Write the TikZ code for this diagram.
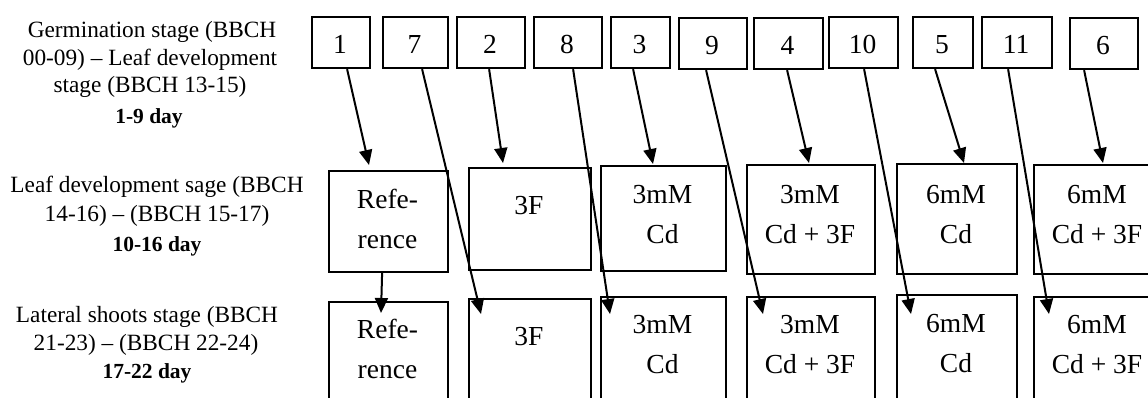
\documentclass[tikz,border=0pt]{standalone}
\usepackage{fontspec}
\setmainfont{Liberation Serif}
\usetikzlibrary{arrows.meta}
\newcommand\mysdfont{\fontsize{23.3}{28}\selectfont}
\newcommand\mysdbfont{\fontsize{21.5}{26}\selectfont\bfseries}
\newcommand\mybxfont{\fontsize{27.5}{33}\selectfont}
\tikzset{
  box/.style={draw, line width=2.2pt, inner sep=0pt, anchor=north west},
  arr/.style={line width=2pt, -{Triangle[length=15pt,width=13pt]}},
  side/.style={anchor=base, inner sep=0pt, font=\mysdfont},
  sideb/.style={anchor=base, inner sep=0pt, font=\mysdbfont},
  txt/.style={anchor=base, inner sep=0pt, font=\mybxfont},
}
\begin{document}
\begin{tikzpicture}[x=1pt,y=-1pt]
\useasboundingbox (0,0) rectangle (1148,397);
\clip (0,0) rectangle (1148,397);
\fill[white] (0,0) rectangle (1148,397);

% side labels
\node[side] (s11) at (152,37) {Germination stage (BBCH};
\node[side] (s12) at (150,65) {00-09) – Leaf development};
\node[side] (s13) at (150,92) {stage (BBCH 13-15)};
\node[sideb] (s14) at (149,123) {1-9 day};
\node[side] (s21) at (157,192) {Leaf development sage (BBCH};
\node[side] (s22) at (157,221) {14-16) – (BBCH 15-17)};
\node[sideb] (s23) at (157,251) {10-16 day};
\node[side] (s31) at (147,322) {Lateral shoots stage (BBCH};
\node[side] (s32) at (146,350) {21-23) – (BBCH 22-24)};
\node[sideb] (s33) at (147,378) {17-22 day};

% top boxes
\node[box, minimum width=58, minimum height=51] (t1) at (311,16) {};
\node[box, minimum width=65, minimum height=51] (t7) at (382,16) {};
\node[box, minimum width=68, minimum height=51] (t2) at (456,16) {};
\node[box, minimum width=68, minimum height=51] (t8) at (533,16) {};
\node[box, minimum width=59, minimum height=51] (t3) at (610,16) {};
\node[box, minimum width=68, minimum height=51] (t9) at (678,17) {};
\node[box, minimum width=69, minimum height=51] (t4) at (753,17) {};
\node[box, minimum width=69, minimum height=51] (t10) at (828,16) {};
\node[box, minimum width=60, minimum height=51] (t5) at (912,16) {};
\node[box, minimum width=70, minimum height=51] (t11) at (981,16) {};
\node[box, minimum width=68, minimum height=51] (t6) at (1069,17) {};
\node[txt] (n1) at (340,53) {1};
\node[txt] (n7) at (414.5,53) {7};
\node[txt] (n2) at (490,53) {2};
\node[txt] (n8) at (567,53) {8};
\node[txt] (n3) at (639.5,53) {3};
\node[txt] (n9) at (712,54) {9};
\node[txt] (n4) at (787.5,54) {4};
\node[txt] (n10) at (862.5,53) {10};
\node[txt] (n5) at (942,53) {5};
\node[txt] (n11) at (1016,53) {11};
\node[txt] (n6) at (1103,54) {6};

% middle row
\node[box, minimum width=119, minimum height=101] (m1) at (328,170) {};
\node[box, minimum width=122, minimum height=102] (m2) at (468,167) {};
\node[box, minimum width=125, minimum height=105] (m3) at (600,165) {};
\node[box, minimum width=128, minimum height=109] (m4) at (746,164) {};
\node[box, minimum width=120, minimum height=110] (m5) at (896,163) {};
\node[box, minimum width=128, minimum height=109] (m6) at (1033,164) {};
\node[txt] (m1a) at (387.5,208) {Refe-};
\node[txt] (m1b) at (387.5,248) {rence};
\node[txt] (m2a) at (529,214) {3F};
\node[txt] (m3a) at (662.5,203) {3mM};
\node[txt] (m3b) at (662.5,243) {Cd};
\node[txt] (m4a) at (810,203) {3mM};
\node[txt] (m4b) at (810,243) {Cd + 3F};
\node[txt] (m5a) at (956,203) {6mM};
\node[txt] (m5b) at (956,243) {Cd};
\node[txt] (m6a) at (1097,203) {6mM};
\node[txt] (m6b) at (1097,243) {Cd + 3F};

% bottom row
\node[box, minimum width=119, minimum height=130] (b1) at (328,301) {};
\node[box, minimum width=122, minimum height=130] (b2) at (468,298) {};
\node[box, minimum width=125, minimum height=130] (b3) at (600,296) {};
\node[box, minimum width=128, minimum height=130] (b4) at (746,296) {};
\node[box, minimum width=120, minimum height=130] (b5) at (896,294) {};
\node[box, minimum width=128, minimum height=130] (b6) at (1033,296) {};
\node[txt] (b1a) at (387.5,338) {Refe-};
\node[txt] (b1b) at (387.5,378) {rence};
\node[txt] (b2a) at (529,345) {3F};
\node[txt] (b3a) at (662.5,333) {3mM};
\node[txt] (b3b) at (662.5,373) {Cd};
\node[txt] (b4a) at (810,333) {3mM};
\node[txt] (b4b) at (810,373) {Cd + 3F};
\node[txt] (b5a) at (956,332) {6mM};
\node[txt] (b5b) at (956,372) {Cd};
\node[txt] (b6a) at (1097,333) {6mM};
\node[txt] (b6b) at (1097,373) {Cd + 3F};

% arrow ends
\coordinate (e1) at (369,165);
\coordinate (e7) at (481,314);
\coordinate (e2) at (503,163);
\coordinate (e8) at (610,314);
\coordinate (e3) at (653,164);
\coordinate (e9) at (763,314);
\coordinate (e4) at (809,163);
\coordinate (e10) at (911,314);
\coordinate (e5) at (964,163);
\coordinate (e11) at (1049,314);
\coordinate (e6) at (1103,163);
\coordinate (eR) at (381,313);

\draw[arr] ([xshift=6pt]t1.south) -- (e1);
\draw[arr] ([xshift=6.5pt]t7.south) -- (e7);
\draw[arr] ([xshift=-2pt]t2.south) -- (e2);
\draw[arr] ([xshift=5pt]t8.south) -- (e8);
\draw[arr] ([xshift=-7.5pt]t3.south) -- (e3);
\draw[arr] ([xshift=-7pt]t9.south) -- (e9);
\draw[arr] ([xshift=-1.5pt]t4.south) -- (e4);
\draw[arr] ([xshift=0.5pt]t10.south) -- (e10);
\draw[arr] ([xshift=-8pt]t5.south) -- (e5);
\draw[arr] ([xshift=-9pt]t11.south) -- (e11);
\draw[arr] ([xshift=-20pt]t6.south) -- (e6);
\draw[arr] ([xshift=-6.5pt]m1.south) -- (eR);
\end{tikzpicture}
\end{document}
